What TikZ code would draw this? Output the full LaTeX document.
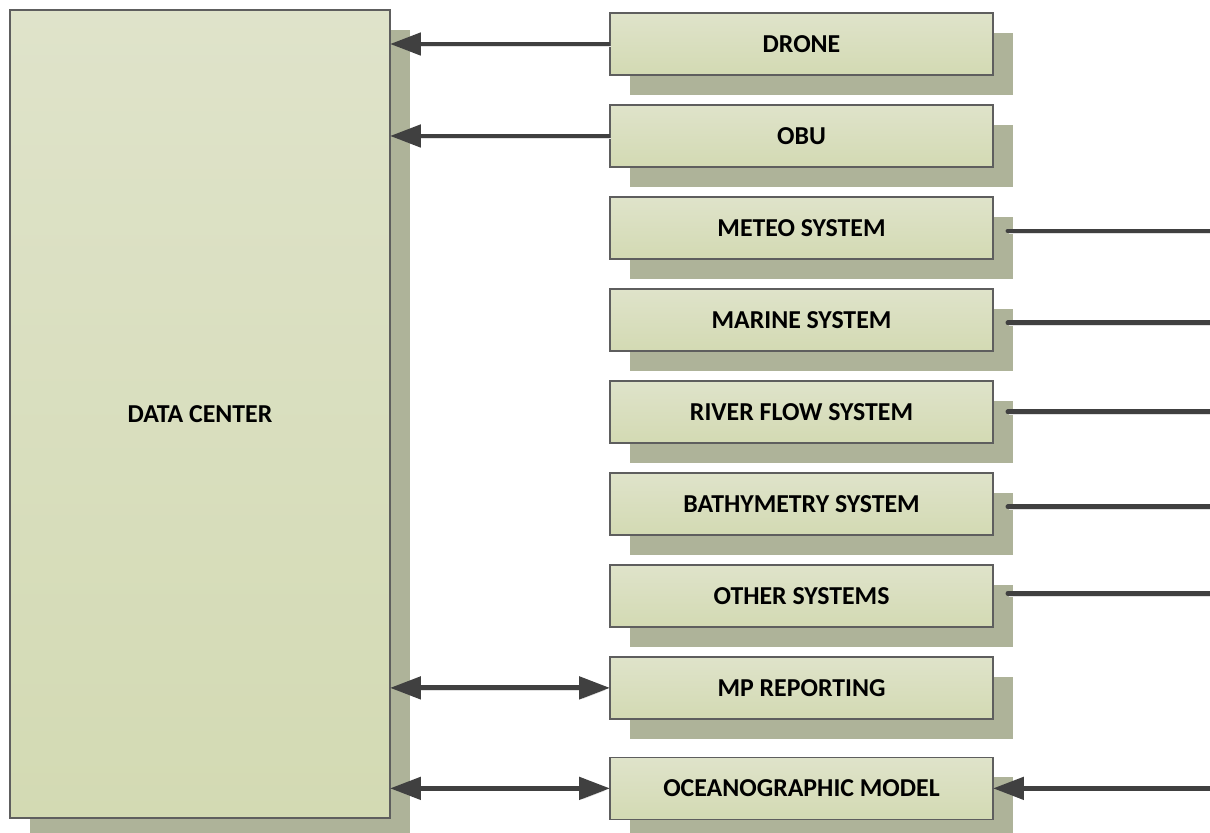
\documentclass[tikz,border=0pt]{standalone}
\usepackage{fontspec}
\setmainfont{Carlito}
\usetikzlibrary{positioning,shadows,arrows.meta}
\definecolor{boxtop}{HTML}{DFE3CA}
\definecolor{boxbot}{HTML}{D3DAB3}
\definecolor{boxshadow}{HTML}{AEB399}
\definecolor{boxline}{HTML}{5E5E5E}
\definecolor{wire}{HTML}{404040}

\begin{document}
\begin{tikzpicture}[x=0.02cm,y=-0.02cm]
	\tikzstyle{every node}=[font=\fontsize{14.7}{17}\selectfont\bfseries]

	\edef\boxw{7.66cm}
	\edef\boxh{1.24cm}
	\tikzstyle{sysbox}=[draw=boxline,line width=0.8pt,top color=boxtop,bottom color=boxbot,
		drop shadow={shadow xshift=0.4cm,shadow yshift=-0.4cm,fill=boxshadow,opacity=1},
		minimum width=\boxw,minimum height=\boxh,inner sep=0pt,outer sep=0pt]
	\tikzstyle{wshadow}=[preaction={draw=black!12,transform canvas={xshift=0.8pt,yshift=-1.4pt}}]
	\tikzstyle{l} = [wire,draw,line width=2.8pt,line cap=round,wshadow]
	\tikzstyle{la} = [wire,draw,line width=2.8pt,-{Triangle[length=0.62cm,width=0.44cm]},wshadow]
	\tikzstyle{lb} = [wire,draw,line width=2.8pt,{Triangle[length=0.62cm,width=0.44cm]}-{Triangle[length=0.62cm,width=0.44cm]},wshadow]

	\useasboundingbox (0,0) rectangle (1210,832);

	%% Data center
	\node [sysbox,minimum width=7.6cm,minimum height=16.16cm] (dc) at (200,414) {DATA CENTER};

	%% Systems
	\node [sysbox] (drone) at (801.5,44) {DRONE};
	\node [sysbox,below=0.6cm of drone] (obu) {OBU};
	\node [sysbox,below=0.6cm of obu] (meteo) {METEO SYSTEM};
	\node [sysbox,below=0.6cm of meteo] (marine) {MARINE SYSTEM};
	\node [sysbox,below=0.6cm of marine] (river) {RIVER FLOW SYSTEM};
	\node [sysbox,below=0.6cm of river] (bathy) {BATHYMETRY SYSTEM};
	\node [sysbox,below=0.6cm of bathy] (other) {OTHER SYSTEMS};
	\node [sysbox,below=0.6cm of other] (mp) {MP REPORTING};
	\node [sysbox,below=0.77cm of mp] (ocean) {OCEANOGRAPHIC MODEL};

	\coordinate (rim) at (1210,0);

	%% Links
	\draw [la] (drone.west) -- (drone.west -| dc.east);
	\draw [la] (obu.west) -- (obu.west -| dc.east);

	\draw [l] ([xshift=0.3cm,yshift=-0.06cm]meteo.east) -- ([yshift=-0.06cm]meteo.east -| rim);
	\draw [l] ([xshift=0.3cm,yshift=-0.06cm]marine.east) -- ([yshift=-0.06cm]marine.east -| rim);
	\draw [l] ([xshift=0.3cm]river.east) -- (river.east -| rim);
	\draw [l] ([xshift=0.3cm,yshift=-0.06cm]bathy.east) -- ([yshift=-0.06cm]bathy.east -| rim);
	\draw [l] ([xshift=0.3cm,yshift=0.05cm]other.east) -- ([yshift=0.05cm]other.east -| rim);

	\draw [lb] (mp.west -| dc.east) -- (mp.west);
	\draw [lb] (ocean.west -| dc.east) -- (ocean.west);
	\draw [la] (ocean.east -| rim) -- (ocean.east);
\end{tikzpicture}
\end{document}
